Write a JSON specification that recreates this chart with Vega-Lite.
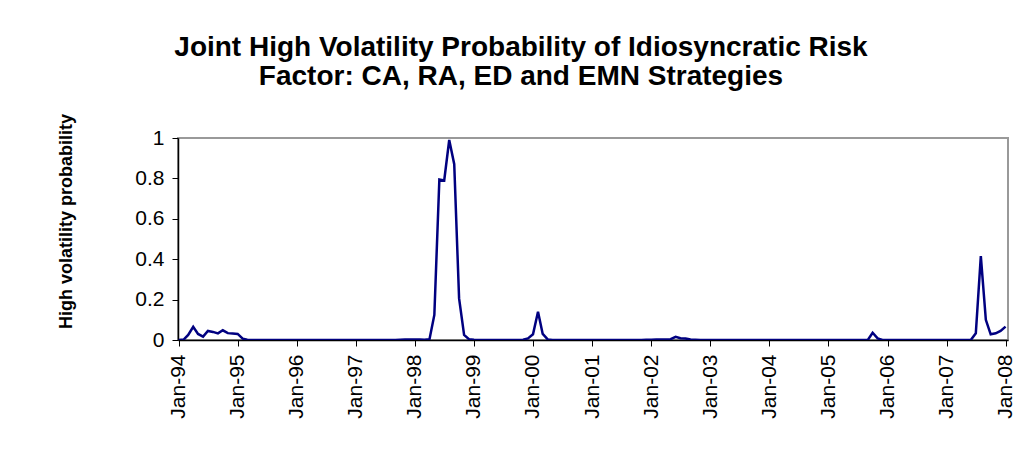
{
  "$schema": "https://vega.github.io/schema/vega-lite/v6.json",
  "width": 830,
  "height": 202,
  "autosize": {"type": "none"},
  "padding": {"left": 178, "top": 138, "right": 15, "bottom": 110},
  "background": "white",
  "title": {
    "text": ["Joint High Volatility Probability of Idiosyncratic Risk", "Factor: CA, RA, ED and EMN Strategies"],
    "font": "Liberation Sans",
    "fontSize": 28,
    "fontWeight": "bold",
    "color": "#000000",
    "anchor": "middle",
    "dx": -72,
    "offset": 22,
    "lineHeight": 29
  },
  "data": {
    "values": [
      {"date": "1994-01-01", "p": 0}, {"date": "1994-02-01", "p": 0.002}, {"date": "1994-03-01", "p": 0.025}, {"date": "1994-04-01", "p": 0.065},
      {"date": "1994-05-01", "p": 0.03}, {"date": "1994-06-01", "p": 0.017}, {"date": "1994-07-01", "p": 0.045}, {"date": "1994-08-01", "p": 0.04},
      {"date": "1994-09-01", "p": 0.033}, {"date": "1994-10-01", "p": 0.048}, {"date": "1994-11-01", "p": 0.034}, {"date": "1994-12-01", "p": 0.032},
      {"date": "1995-01-01", "p": 0.03}, {"date": "1995-02-01", "p": 0.007}, {"date": "1995-03-01", "p": 0.001}, {"date": "1995-04-01", "p": 0},
      {"date": "1995-05-01", "p": 0}, {"date": "1995-06-01", "p": 0}, {"date": "1995-07-01", "p": 0}, {"date": "1995-08-01", "p": 0},
      {"date": "1995-09-01", "p": 0}, {"date": "1995-10-01", "p": 0}, {"date": "1995-11-01", "p": 0}, {"date": "1995-12-01", "p": 0},
      {"date": "1996-01-01", "p": 0}, {"date": "1996-02-01", "p": 0}, {"date": "1996-03-01", "p": 0}, {"date": "1996-04-01", "p": 0},
      {"date": "1996-05-01", "p": 0}, {"date": "1996-06-01", "p": 0}, {"date": "1996-07-01", "p": 0}, {"date": "1996-08-01", "p": 0},
      {"date": "1996-09-01", "p": 0}, {"date": "1996-10-01", "p": 0}, {"date": "1996-11-01", "p": 0}, {"date": "1996-12-01", "p": 0},
      {"date": "1997-01-01", "p": 0}, {"date": "1997-02-01", "p": 0}, {"date": "1997-03-01", "p": 0}, {"date": "1997-04-01", "p": 0},
      {"date": "1997-05-01", "p": 0}, {"date": "1997-06-01", "p": 0}, {"date": "1997-07-01", "p": 0}, {"date": "1997-08-01", "p": 0},
      {"date": "1997-09-01", "p": 0}, {"date": "1997-10-01", "p": 0.001}, {"date": "1997-11-01", "p": 0.002}, {"date": "1997-12-01", "p": 0.003},
      {"date": "1998-01-01", "p": 0.003}, {"date": "1998-02-01", "p": 0.002}, {"date": "1998-03-01", "p": 0.001}, {"date": "1998-04-01", "p": 0.004},
      {"date": "1998-05-01", "p": 0.124}, {"date": "1998-06-01", "p": 0.795}, {"date": "1998-07-01", "p": 0.79}, {"date": "1998-08-01", "p": 0.99},
      {"date": "1998-09-01", "p": 0.87}, {"date": "1998-10-01", "p": 0.206}, {"date": "1998-11-01", "p": 0.025}, {"date": "1998-12-01", "p": 0.004},
      {"date": "1999-01-01", "p": 0.001}, {"date": "1999-02-01", "p": 0}, {"date": "1999-03-01", "p": 0}, {"date": "1999-04-01", "p": 0},
      {"date": "1999-05-01", "p": 0}, {"date": "1999-06-01", "p": 0}, {"date": "1999-07-01", "p": 0}, {"date": "1999-08-01", "p": 0},
      {"date": "1999-09-01", "p": 0}, {"date": "1999-10-01", "p": 0}, {"date": "1999-11-01", "p": 0.001}, {"date": "1999-12-01", "p": 0.008},
      {"date": "2000-01-01", "p": 0.028}, {"date": "2000-02-01", "p": 0.14}, {"date": "2000-03-01", "p": 0.03}, {"date": "2000-04-01", "p": 0.003},
      {"date": "2000-05-01", "p": 0}, {"date": "2000-06-01", "p": 0}, {"date": "2000-07-01", "p": 0}, {"date": "2000-08-01", "p": 0},
      {"date": "2000-09-01", "p": 0}, {"date": "2000-10-01", "p": 0}, {"date": "2000-11-01", "p": 0}, {"date": "2000-12-01", "p": 0},
      {"date": "2001-01-01", "p": 0}, {"date": "2001-02-01", "p": 0}, {"date": "2001-03-01", "p": 0}, {"date": "2001-04-01", "p": 0},
      {"date": "2001-05-01", "p": 0}, {"date": "2001-06-01", "p": 0}, {"date": "2001-07-01", "p": 0}, {"date": "2001-08-01", "p": 0},
      {"date": "2001-09-01", "p": 0}, {"date": "2001-10-01", "p": 0}, {"date": "2001-11-01", "p": 0}, {"date": "2001-12-01", "p": 0.001},
      {"date": "2002-01-01", "p": 0.001}, {"date": "2002-02-01", "p": 0.002}, {"date": "2002-03-01", "p": 0.002}, {"date": "2002-04-01", "p": 0.003},
      {"date": "2002-05-01", "p": 0.004}, {"date": "2002-06-01", "p": 0.016}, {"date": "2002-07-01", "p": 0.009}, {"date": "2002-08-01", "p": 0.007},
      {"date": "2002-09-01", "p": 0.002}, {"date": "2002-10-01", "p": 0.001}, {"date": "2002-11-01", "p": 0}, {"date": "2002-12-01", "p": 0},
      {"date": "2003-01-01", "p": 0}, {"date": "2003-02-01", "p": 0}, {"date": "2003-03-01", "p": 0}, {"date": "2003-04-01", "p": 0},
      {"date": "2003-05-01", "p": 0}, {"date": "2003-06-01", "p": 0}, {"date": "2003-07-01", "p": 0}, {"date": "2003-08-01", "p": 0},
      {"date": "2003-09-01", "p": 0}, {"date": "2003-10-01", "p": 0}, {"date": "2003-11-01", "p": 0}, {"date": "2003-12-01", "p": 0},
      {"date": "2004-01-01", "p": 0}, {"date": "2004-02-01", "p": 0}, {"date": "2004-03-01", "p": 0}, {"date": "2004-04-01", "p": 0},
      {"date": "2004-05-01", "p": 0}, {"date": "2004-06-01", "p": 0}, {"date": "2004-07-01", "p": 0}, {"date": "2004-08-01", "p": 0},
      {"date": "2004-09-01", "p": 0}, {"date": "2004-10-01", "p": 0}, {"date": "2004-11-01", "p": 0}, {"date": "2004-12-01", "p": 0},
      {"date": "2005-01-01", "p": 0}, {"date": "2005-02-01", "p": 0}, {"date": "2005-03-01", "p": 0}, {"date": "2005-04-01", "p": 0},
      {"date": "2005-05-01", "p": 0}, {"date": "2005-06-01", "p": 0}, {"date": "2005-07-01", "p": 0}, {"date": "2005-08-01", "p": 0},
      {"date": "2005-09-01", "p": 0}, {"date": "2005-10-01", "p": 0.036}, {"date": "2005-11-01", "p": 0.008}, {"date": "2005-12-01", "p": 0},
      {"date": "2006-01-01", "p": 0}, {"date": "2006-02-01", "p": 0}, {"date": "2006-03-01", "p": 0}, {"date": "2006-04-01", "p": 0},
      {"date": "2006-05-01", "p": 0}, {"date": "2006-06-01", "p": 0}, {"date": "2006-07-01", "p": 0}, {"date": "2006-08-01", "p": 0},
      {"date": "2006-09-01", "p": 0}, {"date": "2006-10-01", "p": 0}, {"date": "2006-11-01", "p": 0}, {"date": "2006-12-01", "p": 0},
      {"date": "2007-01-01", "p": 0}, {"date": "2007-02-01", "p": 0}, {"date": "2007-03-01", "p": 0}, {"date": "2007-04-01", "p": 0},
      {"date": "2007-05-01", "p": 0}, {"date": "2007-06-01", "p": 0.001}, {"date": "2007-07-01", "p": 0.033}, {"date": "2007-08-01", "p": 0.415},
      {"date": "2007-09-01", "p": 0.1}, {"date": "2007-10-01", "p": 0.028}, {"date": "2007-11-01", "p": 0.033}, {"date": "2007-12-01", "p": 0.045},
      {"date": "2008-01-01", "p": 0.066}
    ]
  },
  "mark": {"type": "line", "color": "#000080", "strokeWidth": 2.5, "clip": true},
  "encoding": {
    "x": {
      "field": "date",
      "type": "temporal",
      "scale": {
        "type": "utc",
        "domain": [
          {"year": 1993, "month": 12, "date": 28, "utc": true},
          {"year": 2008, "month": 1, "date": 16, "utc": true}
        ]
      },
      "axis": {
        "title": null,
        "format": "%b-%y",
        "tickCount": {"interval": "year", "step": 1},
        "labelAngle": -90,
        "labelFont": "Liberation Sans",
        "labelFontSize": 21,
        "labelColor": "#000000",
        "labelPadding": 8,
        "labelOverlap": false,
        "labelBound": false,
        "labelFlush": false,
        "grid": false,
        "domainColor": "#000000",
        "domainWidth": 1.5,
        "tickColor": "#000000",
        "tickSize": 6,
        "tickWidth": 1
      }
    },
    "y": {
      "field": "p",
      "type": "quantitative",
      "scale": {"domain": [0, 1], "nice": false, "zero": true},
      "axis": {
        "title": "High volatility probability",
        "titleFont": "Liberation Sans",
        "titleFontSize": 18,
        "titleFontWeight": "bold",
        "titleColor": "#000000",
        "titleX": -112,
        "titleY": 83,
        "titleAlign": "center",
        "titleBaseline": "middle",
        "titleAngle": -90,
        "values": [0, 0.2, 0.4, 0.6, 0.8, 1],
        "format": "~g",
        "labelFont": "Liberation Sans",
        "labelFontSize": 21,
        "labelColor": "#000000",
        "labelPadding": 8,
        "labelFlush": false,
        "labelBound": false,
        "grid": false,
        "domainColor": "#000000",
        "domainWidth": 1.5,
        "tickColor": "#000000",
        "tickSize": 6,
        "tickWidth": 1
      }
    }
  },
  "config": {
    "view": {"stroke": "#999999", "strokeWidth": 2}
  }
}
